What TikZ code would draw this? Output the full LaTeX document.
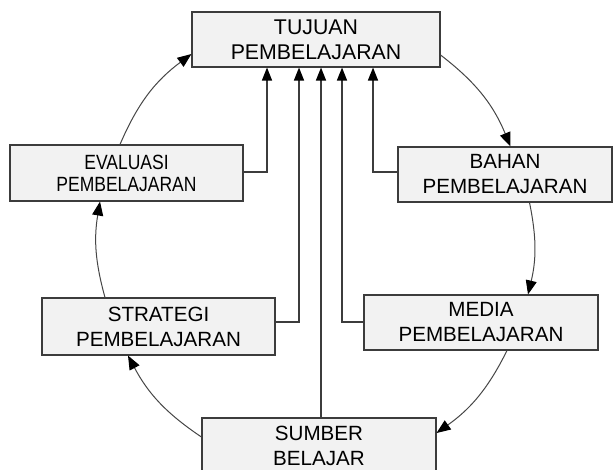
\documentclass[tikz,border=0pt]{standalone}
\usepackage{fontspec}
\setmainfont{Liberation Sans}
\usepackage{graphicx}
\usetikzlibrary{arrows.meta,calc}

\definecolor{boxfill}{RGB}{242,242,242}
\definecolor{boxline}{RGB}{60,60,60}
\definecolor{arcline}{RGB}{70,70,70}

\begin{document}
\begin{tikzpicture}[x=1pt, y=1pt,
		kotak/.style={draw=boxline, fill=boxfill, line width=1.1pt, align=center, inner sep=0pt,
			font=\fontsize{20.6}{25}\selectfont},
		lengkung/.style={-{Triangle[length=14pt,width=11pt,color=black]}, draw=arcline, line width=1pt},
		panah/.style={-{Triangle[length=13pt,width=10pt,color=black]}, draw=boxline, line width=1.3pt}]
			\useasboundingbox (0,0) rectangle (615,-469);
			\clip (0,0) rectangle (615,-469);

			\node (tujuan) [kotak, minimum width=248, minimum height=55, font=\fontsize{21.3}{25}\selectfont] at (316,-39.5) {TUJUAN\\PEMBELAJARAN};
			\node (evaluasi) [kotak, minimum width=233, minimum height=56, font=\fontsize{20.6}{22}\selectfont] at (126.5,-173) {\scalebox{0.85}[1]{EVALUASI}\\\scalebox{0.85}[1]{PEMBELAJARAN}};
			\node (bahan) [kotak, minimum width=214, minimum height=55] at (505,-174.5) {BAHAN\\PEMBELAJARAN};
			\node (strategi) [kotak, minimum width=233, minimum height=57] at (158.5,-326.5) {STRATEGI\\PEMBELAJARAN};
			\node (media) [kotak, minimum width=234, minimum height=55] at (481,-322.5) {MEDIA\\PEMBELAJARAN};
			\node (sumber) [kotak, minimum width=234, minimum height=56] at (319,-446) {SUMBER\\BELAJAR};

			% lingkaran
			\draw[lengkung] ([xshift=-6.5]evaluasi.north) to[bend left=15] ([yshift=-14.5]tujuan.west);
			\draw[lengkung] ([yshift=-15.5]tujuan.east) to[bend left=15] ([xshift=5.5]bahan.north);
			\draw[lengkung] ([xshift=24.5]bahan.south) to[bend left=12.5] ([xshift=47]media.north);
			\draw[lengkung] ([xshift=26]media.south) to[bend left=14] ([yshift=13]sumber.east);
			\draw[lengkung] ([yshift=9]sumber.west) to[bend left=14] ([xshift=-30.5]strategi.south);
			\draw[lengkung] ([xshift=-53.5]strategi.north) to[bend left=12.5] ([xshift=-26.5]evaluasi.south);

			% ke tujuan
			\coordinate (masuk) at ([xshift=5]tujuan.south);
			\draw[panah] ([yshift=1]evaluasi.east) -| ([xshift=-49]tujuan.south);
			\draw[panah] ([yshift=4.5]strategi.east) -| ([xshift=-17]tujuan.south);
			\draw[panah] (masuk |- sumber.north) -- (masuk);
			\draw[panah] ([yshift=0.5]media.west) -| ([xshift=26]tujuan.south);
			\draw[panah] ([yshift=2.5]bahan.west) -| ([xshift=57]tujuan.south);
		\end{tikzpicture}
\end{document}
